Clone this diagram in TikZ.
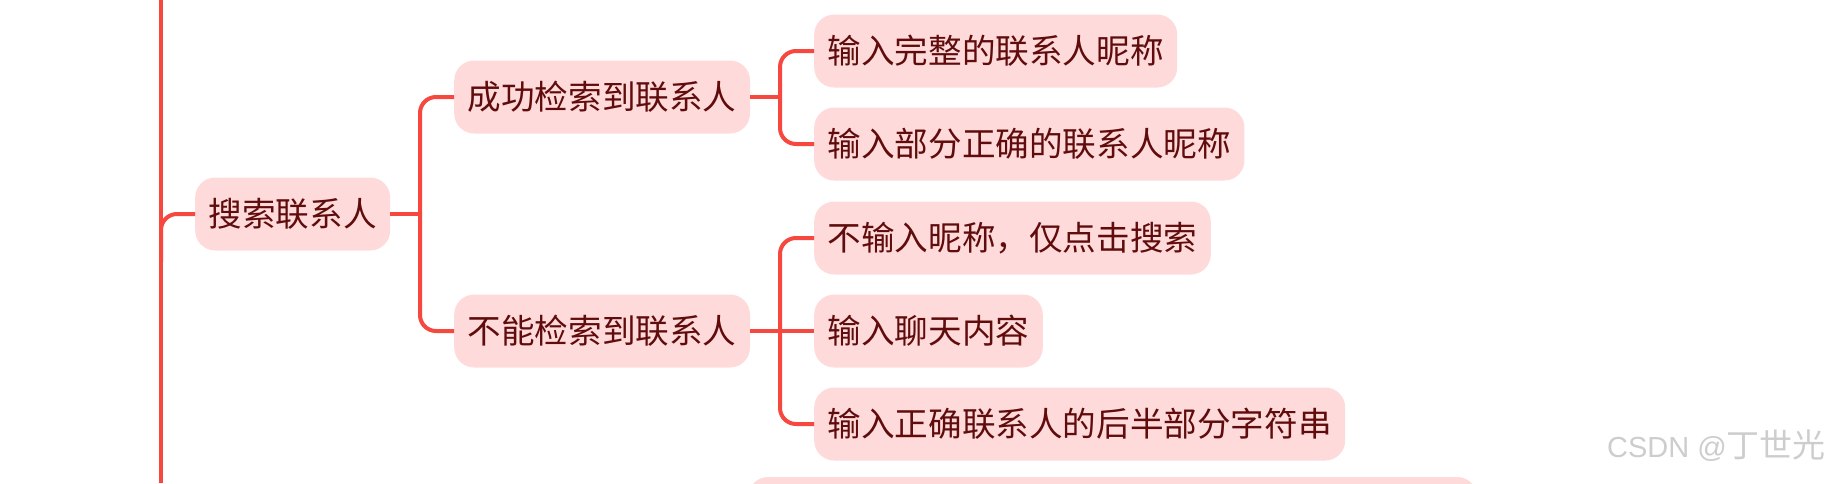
\documentclass[tikz,border=0pt]{standalone}
\usepackage{fontspec}
\newfontfamily\cjk{Noto Sans CJK SC}
\newfontfamily\wmlat{Liberation Sans}
\definecolor{linkred}{RGB}{246,72,62}
\definecolor{boxfill}{RGB}{255,218,218}
\definecolor{txtred}{RGB}{96,12,12}
\definecolor{wmgray}{RGB}{205,205,205}
\tikzset{
  topic/.style={fill=boxfill, rounded corners=20pt, minimum height=73pt, inner xsep=13.5pt, inner ysep=0pt,
    anchor=west, text=txtred, font=\cjk\fontsize{33.6pt}{36pt}\selectfont},
  link/.style={draw=linkred, line width=4pt},
  curvelink/.style={link, rounded corners=16pt},
}
\begin{document}
\begin{tikzpicture}[x=1pt,y=-1pt]
\useasboundingbox (0,0) rectangle (1831,483);
\clip (0,0) rectangle (1831,483);
% trunk
\coordinate (ttop) at (161,0);
\coordinate (tbot) at (161,483);
\draw[link] (ttop) -- (tbot);
% nodes
\node[topic] (s) at (195,214) {搜索联系人};
\node[topic] (ok) at (454,97) {成功检索到联系人};
\node[topic] (no) at (454,331) {不能检索到联系人};
\node[topic] (l1) at (814,51) {输入完整的联系人昵称};
\node[topic] (l2) at (814,144) {输入部分正确的联系人昵称};
\node[topic] (l3) at (814,238) {不输入昵称，仅点击搜索};
\node[topic] (l4) at (814,331) {输入聊天内容};
\node[topic] (l5) at (814,424) {输入正确联系人的后半部分字符串};
\node[topic, minimum width=729pt, minimum height=60pt] (bot) at (748,507) {};
% connectors
\coordinate (tj) at (161,262);
\draw[curvelink] (tj) |- (s.west);
\coordinate (sj) at (420,214);
\draw[link] (s.east) -- (sj);
\draw[curvelink] (sj) |- (ok.west);
\draw[curvelink] (sj) |- (no.west);
\coordinate (okj) at (780,97);
\draw[link] (ok.east) -- (okj);
\draw[curvelink] (okj) |- (l1.west);
\draw[curvelink] (okj) |- (l2.west);
\coordinate (noj) at (780,331);
\draw[link] (no.east) -- (noj);
\draw[curvelink] (noj) |- (l3.west);
\draw[link] (noj) -- (l4.west);
\draw[curvelink] (noj) |- (l5.west);
% watermark
\node[anchor=east, text=wmgray, inner sep=0pt] (wm) at (1826,446) {\wmlat\fontsize{29pt}{31pt}\selectfont CSDN @\cjk\fontsize{33pt}{35pt}\selectfont 丁世光};
\end{tikzpicture}
\end{document}
